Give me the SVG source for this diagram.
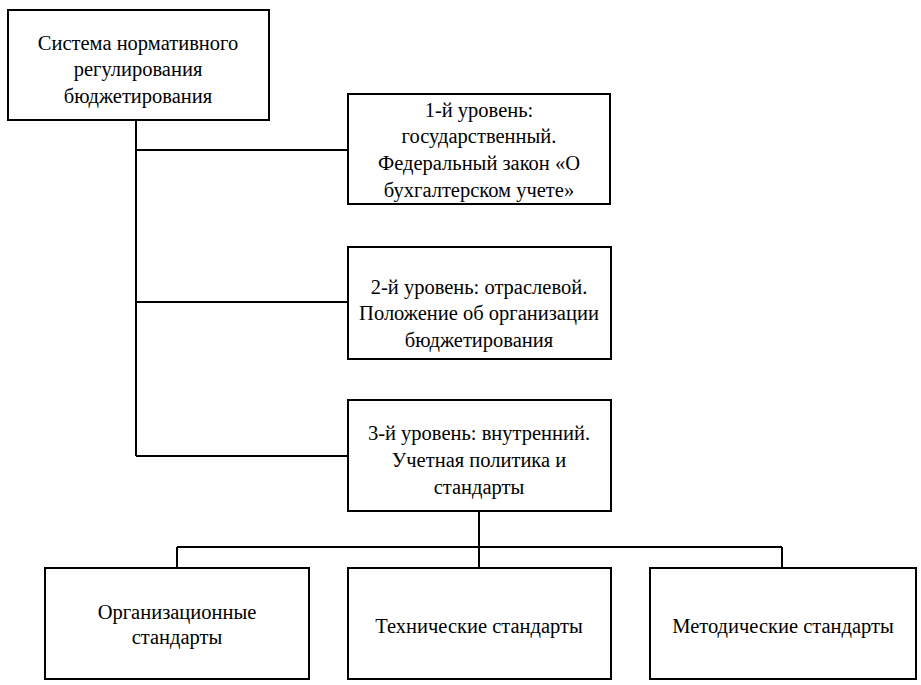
<svg xmlns="http://www.w3.org/2000/svg" width="921" height="685" viewBox="0 0 921 685">
<style>
.box{fill:#fff;stroke:#000;stroke-width:2}
.ln{fill:none;stroke:#000;stroke-width:2}
text{font-family:"Liberation Serif","Times New Roman",serif;font-size:20.5px;fill:#000;text-anchor:middle}
</style>
<rect width="921" height="685" fill="#fff"/>
<g id="connectors">
<path class="ln" d="M136 120V456M136 150H348M136 302H348M136 456H348"/>
<path class="ln" d="M479 511V547M177 547H782M177 547V568M479 547V568M782 547V568"/>
</g>
<g id="root">
<rect class="box" x="8" y="10" width="261" height="110"/>
<text x="138" y="50">Система нормативного</text>
<text x="138" y="76">регулирования</text>
<text x="138" y="103">бюджетирования</text>
</g>
<g id="level1">
<rect class="box" x="348" y="94" width="262" height="110"/>
<text x="479" y="117">1-й уровень:</text>
<text x="479" y="143">государственный.</text>
<text x="479" y="170">Федеральный закон «О</text>
<text x="479" y="197">бухгалтерском учете»</text>
</g>
<g id="level2">
<rect class="box" x="348" y="247" width="263" height="112"/>
<text x="479" y="294">2-й уровень: отраслевой.</text>
<text x="479" y="320">Положение об организации</text>
<text x="479" y="347">бюджетирования</text>
</g>
<g id="level3">
<rect class="box" x="348" y="400" width="263" height="111"/>
<text x="479" y="440">3-й уровень: внутренний.</text>
<text x="479" y="467">Учетная политика и</text>
<text x="479" y="494">стандарты</text>
</g>
<g id="org">
<rect class="box" x="45" y="568" width="264" height="111"/>
<text x="177" y="619">Организационные</text>
<text x="177" y="644">стандарты</text>
</g>
<g id="tech">
<rect class="box" x="348" y="568" width="263" height="111"/>
<text x="479" y="633">Технические стандарты</text>
</g>
<g id="method">
<rect class="box" x="650" y="568" width="266" height="111"/>
<text x="783" y="633">Методические стандарты</text>
</g>
</svg>
